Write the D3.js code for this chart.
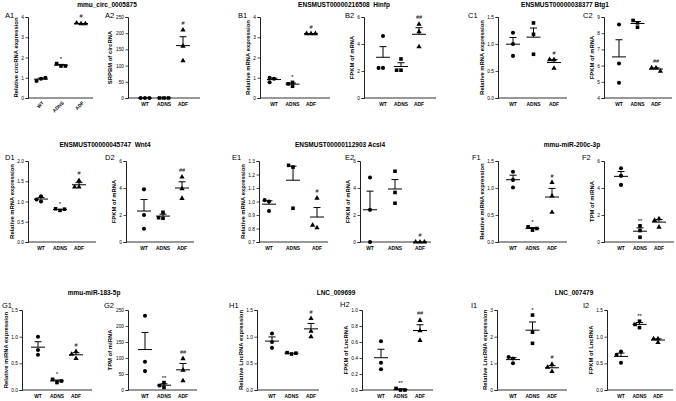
<!DOCTYPE html>
<html><head><meta charset="utf-8">
<script src="https://cdn.jsdelivr.net/npm/d3@7"></script>
<style>body{margin:0;background:#fff} svg{display:block} text{font-family:"Liberation Sans",Arial,sans-serif;fill:#000}</style>
</head><body><svg id="c" width="676" height="401"></svg>
<script>
const groups = ["WT","ADNS","ADF"];
const panelIds = ["A1","A2","B1","B2","C1","C2","D1","D2","E1","E2","F1","F2","G1","G2","H1","H2","I1","I2"];
const titles = ["mmu_circ_0005875","ENSMUST00000216508  Hinfp","ENSMUST00000038377 Btg1",
  "ENSMUST00000045747  Wnt4","ENSMUST00000112903 Acsl4","mmu-miR-200c-3p",
  "mmu-miR-183-5p","LNC_009699","LNC_007479"];
const yLabels = ["Relative circRNA expression","SRPBM of circRNA","Relative mRNA expression","FPKM of mRNA",
  "Relative mRNA expression","FPKM of mRNA","Relative mRNA expression","FPKM of mRNA",
  "Relative mRNA expression","FPKM of mRNA","Relative miRNA expression","TPM of miRNA",
  "Relative miRNA expression","TPM of miRNA","Relative LncRNA expression","FPKM of LncRNA",
  "Relative LncRNA expression","FPKM of LncRNA"];
const yTicks = [[0,1,2,3,4],[0,50,100,150,200,250],[0,1,2,3,4],[0,2,4,6],[0,0.5,1,1.5],[4,5,6,7,8,9],
  [0,0.5,1,1.5,2],[0,2,4,6],[0.7,0.8,0.9,1.0,1.1,1.2,1.3],[0,2,4,6],[0,0.5,1,1.5],[0,2,4,6],
  [0,0.5,1,1.5],[0,50,100,150,200,250],[0,0.5,1,1.5],[0,0.2,0.4,0.6,0.8,1.0],[0,1,2,3],[0,0.5,1,1.5]];

// values per panel: [WT points, ADNS points, ADF points]
const A1 = [[0.95,0.84,1.0],[1.58,1.70,1.58],[3.67,3.70,3.67]];
const A2 = [[0,0,0],[0,0,0],[210,160,115]];
const B1 = [[0.95,0.78,1.0],[0.58,0.70,0.77],[3.18,3.18,3.18]];
const B2 = [[4.59,2.23,2.23],[2.89,2.06,2.06],[5.46,4.9,3.8]];
const C1 = [[1.21,1.0,0.78],[1.39,1.18,0.81],[0.71,0.71,0.55]];
const C2 = [[8.54,6.13,4.94],[8.64,8.37,8.79],[5.86,5.86,5.65]];
const D1 = [[1.0,1.13,1.05],[0.78,0.82,0.81],[1.36,1.52,1.36]];
const D2 = [[3.9,2.0,0.98],[1.76,2.2,1.8],[4.82,3.95,3.23]];
const E1 = [[0.93,1.0,1.01],[0.95,1.255,1.268],[1.025,0.805,0.825]];
const E2 = [[4.78,2.38,0],[5.24,3.67,2.87],[0,0,0]];
const F1 = [[1.30,1.15,1.01],[0.22,0.28,0.25],[1.1,0.85,0.55]];
const F2 = [[5.46,4.9,4.23],[1.2,0.85,0.35],[1.72,1.6,1.1]];
const G1 = [[1.0,0.75,0.66],[0.14,0.2,0.17],[0.72,0.67,0.59]];
const G2 = [[232,88,59],[8,23,14],[98,62,29]];
const H1 = [[1.06,0.9,0.79],[0.675,0.70,0.69],[1.34,1.1,1.0]];
const H2 = [[0.61,0.34,0.26],[0.0,0.02,0.0],[0.87,0.74,0.62]];
const I1 = [[1.0,1.18,1.24],[2.81,2.17,1.75],[0.96,0.85,0.69]];
const I2 = [[0.72,0.66,0.51],[1.29,1.23,1.17],[0.96,0.96,0.89]];
const panelValues = [A1,A2,B1,B2,C1,C2,D1,D2,E1,E2,F1,F2,G1,G2,H1,H2,I1,I2];

const sigADNS = ["*","","*","","","","*","","","","*","**","*","**","","**","*","**"];
const sigADF  = ["#","#","#","##","#","##","#","##","#","#","#","","#","##","#","##","#",""];

// ---- layout (pixels) ----
const axisX   = [28,128,260,364,498,604, 28,126,259,360,498,604, 22,128,257,362,497,607];
const axisLen = [65,72,70,72,69,68, 68,68,69,71,69,70, 70,69,62,71,70,66];
const grpFirst= [13,17,14,19,15,15, 13,18,10,10,15,17, 16,17,15,19,16,14];
const grpLast = [53,55,51,55,56,52, 51,56,58,60,54,55, 54,55,54,58,55,51];
const rowTop = [17,161,310], rowBot = [98,242,390];
const letterPos = [[5,15],[105,15],[238,15],[345,15],[468,15],[583,15],
  [5,157],[105,157],[232,157],[345,157],[472,157],[582,157],
  [2,305],[104,305],[229,305],[340,304],[471,305],[583,305]];
const titlePos = [[107,7],[344,7],[565,7],[105,147],[340,147],[572,147],[94,295],[336,295],[574,295]];

const svg = d3.select("#c");
titles.forEach((t,i)=>{
  svg.append("text").attr("x",titlePos[i][0]).attr("y",titlePos[i][1]).attr("text-anchor","middle")
    .style("font-size","6.5px").style("font-weight","bold").attr("xml:space","preserve").text(t);
});

const shapes = [d3.symbolCircle, d3.symbolSquare, d3.symbolTriangle];
const shapeSize = [13, 13, 12];

panelIds.forEach((id,i)=>{
  const row = Math.floor(i/6);
  const ax = axisX[i], top = rowTop[row], bot = rowBot[row];
  const ticks = yTicks[i];
  const y = d3.scaleLinear().domain([ticks[0], ticks[ticks.length-1]]).range([bot, top]);
  const x = d3.scalePoint().domain(groups).range([ax+grpFirst[i], ax+grpLast[i]]);
  const g = svg.append("g");
  const dec = ticks.some(t=>Math.abs(t-Math.round(t))>1e-9);
  const yAxis = d3.axisLeft(y).tickValues(ticks).tickSize(2.5).tickPadding(1.5)
    .tickFormat(d=> dec ? d.toFixed(1) : String(d));
  const ya = g.append("g").attr("transform",`translate(${ax},0)`).call(yAxis);
  ya.select(".domain").attr("stroke","#222").attr("stroke-width",1);
  ya.selectAll(".tick line").attr("stroke","#222").attr("stroke-width",0.8);
  ya.selectAll(".tick text").style("font-size","4.8px").style("font-family",'"Liberation Sans",Arial,sans-serif');
  g.append("line").attr("x1",ax).attr("x2",ax+axisLen[i]).attr("y1",bot).attr("y2",bot)
    .attr("stroke","#333").attr("stroke-width",1.1);
  groups.forEach(gr=>{
    if(id==="A1"){
      g.append("text").attr("transform",`translate(${x(gr)+2},${bot+4}) rotate(-45)`)
        .attr("text-anchor","end").attr("dy","0.35em").style("font-size","4.8px").style("font-weight","bold").text(gr);
    } else {
      g.append("text").attr("x",x(gr)).attr("y",bot+8).attr("text-anchor","middle")
        .style("font-size","4.9px").style("font-weight","bold").text(gr);
    }
  });
  let maxW = 0;
  ya.selectAll(".tick text").each(function(){ maxW = Math.max(maxW, this.getComputedTextLength()); });
  const ylx = ax - 2.5 - 1.5 - maxW - 3.5;
  g.append("text").attr("transform",`translate(${ylx},${(top+bot)/2}) rotate(-90)`)
    .attr("text-anchor","middle").style("font-size","5.9px").style("font-weight","bold").text(yLabels[i]);
  g.append("text").attr("x",letterPos[i][0]).attr("y",letterPos[i][1]+3)
    .style("font-size","7.5px").text(id);

  const vals = panelValues[i];
  vals.forEach((pts,k)=>{
    const cx = x(groups[k]);
    const mean = d3.mean(pts);
    const sem = d3.deviation(pts)/Math.sqrt(pts.length);
    const placed = [];
    const offs = [0,-4.4,4.4,-8.8,8.8];
    pts.forEach(v=>{
      const py = y(v);
      let ox = 0;
      for(const o of offs){
        if(placed.every(p=> !(Math.abs(p[0]-o)<3.8 && Math.abs(p[1]-py)<3.6))){ ox=o; break; }
      }
      placed.push([ox,py]);
      g.append("path").attr("d", d3.symbol().type(shapes[k]).size(shapeSize[k])())
        .attr("transform",`translate(${cx+ox},${py})`).attr("fill","#000");
    });
    const my = y(mean), ty = y(mean+sem);
    g.append("line").attr("x1",cx-7).attr("x2",cx+7).attr("y1",my).attr("y2",my)
      .attr("stroke","#000").attr("stroke-width",1);
    if(my-ty>0.5){
      g.append("line").attr("x1",cx).attr("x2",cx).attr("y1",my).attr("y2",ty).attr("stroke","#000").attr("stroke-width",1);
      g.append("line").attr("x1",cx-3.5).attr("x2",cx+3.5).attr("y1",ty).attr("y2",ty).attr("stroke","#000").attr("stroke-width",1);
    }
    const s = k===1 ? sigADNS[i] : (k===2 ? sigADF[i] : "");
    if(s){
      const topPx = Math.min(ty, ...pts.map(v=>y(v))) - 2;
      const isStar = s[0]==="*";
      g.append("text").attr("x",cx).attr("y", isStar ? topPx-1 : topPx-3).attr("text-anchor","middle")
        .style("font-size", isStar ? "6px":"5.5px").text(s);
    }
  });
});
</script></body></html>
